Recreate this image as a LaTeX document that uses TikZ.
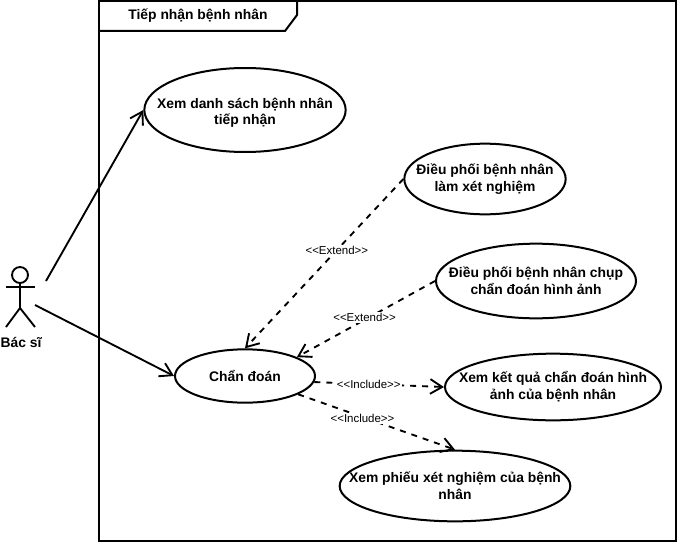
\documentclass[tikz,border=0pt]{standalone}
\usepackage{fontspec}
\setmainfont{Liberation Sans}
\usetikzlibrary{positioning}
\usetikzlibrary{arrows.meta}
\usetikzlibrary{shapes.geometric}
\tikzset{
  usecase/.style={draw,ellipse,line width=1.5pt,inner xsep=-30pt,inner ysep=-12pt,align=center,font=\bfseries\fontsize{10.4pt}{12.6pt}\selectfont},
  assoc/.style={line width=1.4pt,-{Straight Barb[length=9pt,width=11pt]}},
  depend/.style={assoc,dash pattern=on 4.5pt off 4.5pt},
  stereo/.style={fill=white,inner sep=1pt,font=\fontsize{8.6pt}{10pt}\selectfont},
}
\begin{document}
\begin{tikzpicture}[x=0.75pt,y=-0.75pt]
            \useasboundingbox (0,0) rectangle (677,542);
            % frame
            \draw [line width=1.5pt] (99,1) rectangle (676,541);
            \draw [line width=1.5pt] (99,31) -- (285,31) -- (297,15) -- (297,1);
            \node at (198,16) (nTitle) [font=\bfseries\fontsize{10.4pt}{12pt}\selectfont] {Tiếp nhận bệnh nhân};
            % actor
            \draw [line width=1.4pt] (20,275) circle (8);
            \draw [line width=1.4pt] (20,283) -- (20,308);
            \draw [line width=1.4pt] (6,287) -- (35,287);
            \draw [line width=1.4pt] (6,327) -- (20,308) -- (35,327);
            \node at (21,342) (nActor) [font=\bfseries\fontsize{10.4pt}{12pt}\selectfont] {Bác sĩ};
            \coordinate (nActorA) at (46,281);
            \coordinate (nActorB) at (35,305);
            % use cases
            \node at (245,110) (nList) [usecase,minimum width=151pt,minimum height=63pt] {\rule{0pt}{12pt}Xem danh sách bệnh nhân\\tiếp nhận};
            \node at (485,179) (nLab) [usecase,minimum width=121pt,minimum height=53pt] {Điều phối bệnh nhân\\làm xét nghiệm};
            \node at (536,281) (nScan) [usecase,minimum width=150pt,minimum height=56pt] {Điều phối bệnh nhân chụp\\chẩn đoán hình ảnh};
            \node at (245,376) (nDiag) [usecase,minimum width=105pt,minimum height=40pt] {Chẩn đoán};
            \node at (553,387) (nResult) [usecase,minimum width=162pt,minimum height=50pt] {Xem kết quả chẩn đoán hình\\ảnh của bệnh nhân};
            \node at (455,486) (nSheet) [usecase,minimum width=173pt,minimum height=53pt] {Xem phiếu xét nghiệm của bệnh\\nhân};
            % actor to use case
            \draw [assoc] (nActorA) -- (nList.west);
            \draw [assoc] (nActorB) -- (nDiag.west);
            % extend and include
            \draw [depend] (nLab.west) -- (nDiag.north) node [pos=0.42,stereo] (nExt1) {<{}<Extend>{}>};
            \draw [depend] (nScan.west) -- (nDiag.20) node [pos=0.51,stereo,yshift=1.5pt] (nExt2) {<{}<Extend>{}>};
            \draw [depend] (nDiag.-5) -- (nResult.west) node [pos=0.42,stereo] (nInc1) {<{}<Include>{}>};
            \draw [depend] (nDiag.-19) -- (nSheet.north) node [pos=0.41,stereo,yshift=-1pt] (nInc2) {<{}<Include>{}>};
        \end{tikzpicture}
\end{document}
